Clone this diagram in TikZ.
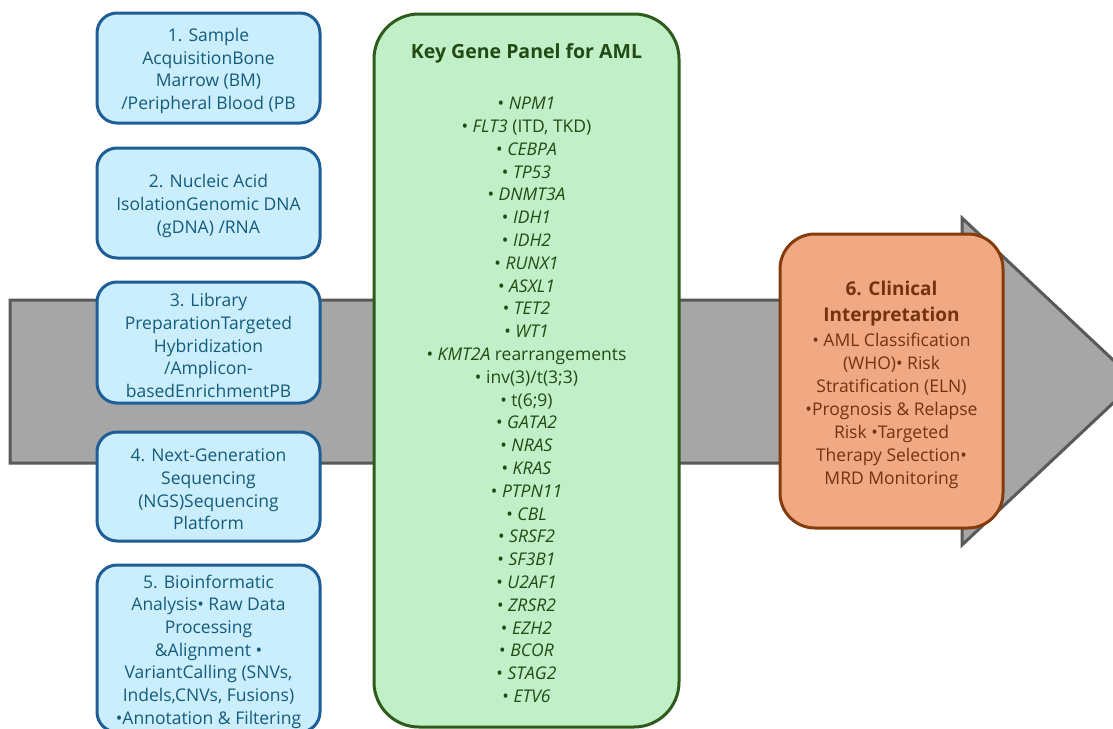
\documentclass[tikz,border=0pt]{standalone}
\usepackage{fontspec}
\setmainfont{Open Sans}
\definecolor{bluefill}{HTML}{CAEEFB}
\definecolor{blueline}{HTML}{1F5D96}
\definecolor{bluetext}{HTML}{155C7C}
\definecolor{greenfill}{HTML}{C1F0C8}
\definecolor{greenline}{HTML}{2E5A1C}
\definecolor{greentext}{HTML}{224A14}
\definecolor{orangefill}{HTML}{F1A983}
\definecolor{orangeline}{HTML}{843C0C}
\definecolor{orangetext}{HTML}{74320F}
\definecolor{grayfill}{HTML}{A6A6A6}
\definecolor{grayline}{HTML}{595959}
\newcommand{\clintitle}[1]{{\bfseries\fontsize{19}{26}\selectfont #1}}
\begin{document}
\begin{tikzpicture}[x=1pt,y=-1pt,
  stepbox/.style={draw=blueline, fill=bluefill, line width=3pt, rounded corners=20pt,
    minimum width=223pt, inner sep=0pt},
  steptext/.style={align=center, text=bluetext, inner sep=0pt, yshift=-3pt,
    font=\fontsize{17.5}{22.7}\selectfont},
  panelbox/.style={draw=greenline, fill=greenfill, line width=3pt, rounded corners=45pt,
    minimum width=305pt, minimum height=713pt, inner sep=0pt},
  paneltext/.style={align=center, text=greentext, inner sep=0pt},
  clinbox/.style={draw=orangeline, fill=orangefill, line width=3pt, rounded corners=35pt,
    minimum width=223pt, minimum height=294pt, inner sep=0pt},
  clintext/.style={align=center, text=orangetext, inner sep=0pt,
    font=\fontsize{17.5}{23}\selectfont},
  arrowshape/.style={draw=grayline, fill=grayfill, line width=3pt}
]
\useasboundingbox (0,0) rectangle (1113,728);
\clip (0,0) rectangle (1113,728);
\fill[white] (0,0) rectangle (1113,728);

% big arrow
\draw[arrowshape] (10,300) -- (962,300) -- (962,218) -- (1136,381.5) -- (962,545) -- (962,463) -- (10,463) -- cycle;

% steps
\node[stepbox, minimum height=110pt] (s1) at (208.5,68) {};
\node[steptext] (t1) at (s1.center) {1. Sample\\AcquisitionBone\\Marrow (BM)\\/Peripheral Blood (PB};
\node[stepbox, minimum height=110pt] (s2) at (208.5,203) {};
\node[steptext] (t2) at (s2.center) {2. Nucleic Acid\\IsolationGenomic DNA\\(gDNA) /RNA};
\node[stepbox, minimum height=121pt] (s3) at (208.5,342.5) {};
\node[steptext] (t3) at (s3.center) {3. Library\\PreparationTargeted\\Hybridization\\/Amplicon-\\basedEnrichmentPB};
\node[stepbox, minimum height=109pt] (s4) at (208.5,486.5) {};
\node[steptext] (t4) at (s4.center) {4. Next-Generation\\Sequencing\\(NGS)Sequencing\\Platform};
\node[stepbox, minimum height=167pt] (s5) at (208.5,648.5) {};
\node[steptext] (t5) at (s5.center) {5. Bioinformatic\\Analysis• Raw Data\\Processing\\\&Alignment •\\VariantCalling (SNVs,\\Indels,CNVs, Fusions)\\•Annotation \& Filtering};

% gene panel
\node[panelbox] (panel) at (526.5,370.5) {};
\node[paneltext, font=\bfseries\fontsize{19.5}{22}\selectfont] (ptitle) at (526.5,53) {Key Gene Panel for AML};
\node[paneltext, font=\fontsize{17.5}{22.8}\selectfont] (plist) at (526.5,400) {%
• \textit{NPM1}\\
• \textit{FLT3} (ITD, TKD)\\
• \textit{CEBPA}\\
• \textit{TP53}\\
• \textit{DNMT3A}\\
• \textit{IDH1}\\
• \textit{IDH2}\\
• \textit{RUNX1}\\
• \textit{ASXL1}\\
• \textit{TET2}\\
• \textit{WT1}\\
• \textit{KMT2A} rearrangements\\
• inv(3)/t(3;3)\\
• t(6;9)\\
• \textit{GATA2}\\
• \textit{NRAS}\\
• \textit{KRAS}\\
• \textit{PTPN11}\\
• \textit{CBL}\\
• \textit{SRSF2}\\
• \textit{SF3B1}\\
• \textit{U2AF1}\\
• \textit{ZRSR2}\\
• \textit{EZH2}\\
• \textit{BCOR}\\
• \textit{STAG2}\\
• \textit{ETV6}};

% clinical interpretation
\node[clinbox] (clin) at (891.5,381) {};
\node[clintext] (clint) at (891.5,385) {\clintitle{6. Clinical}\\[3pt]\clintitle{Interpretation}\\[2pt]• AML Classification\\(WHO)• Risk\\Stratification (ELN)\\•Prognosis \& Relapse\\Risk •Targeted\\Therapy Selection•\\MRD Monitoring};
\end{tikzpicture}
\end{document}
